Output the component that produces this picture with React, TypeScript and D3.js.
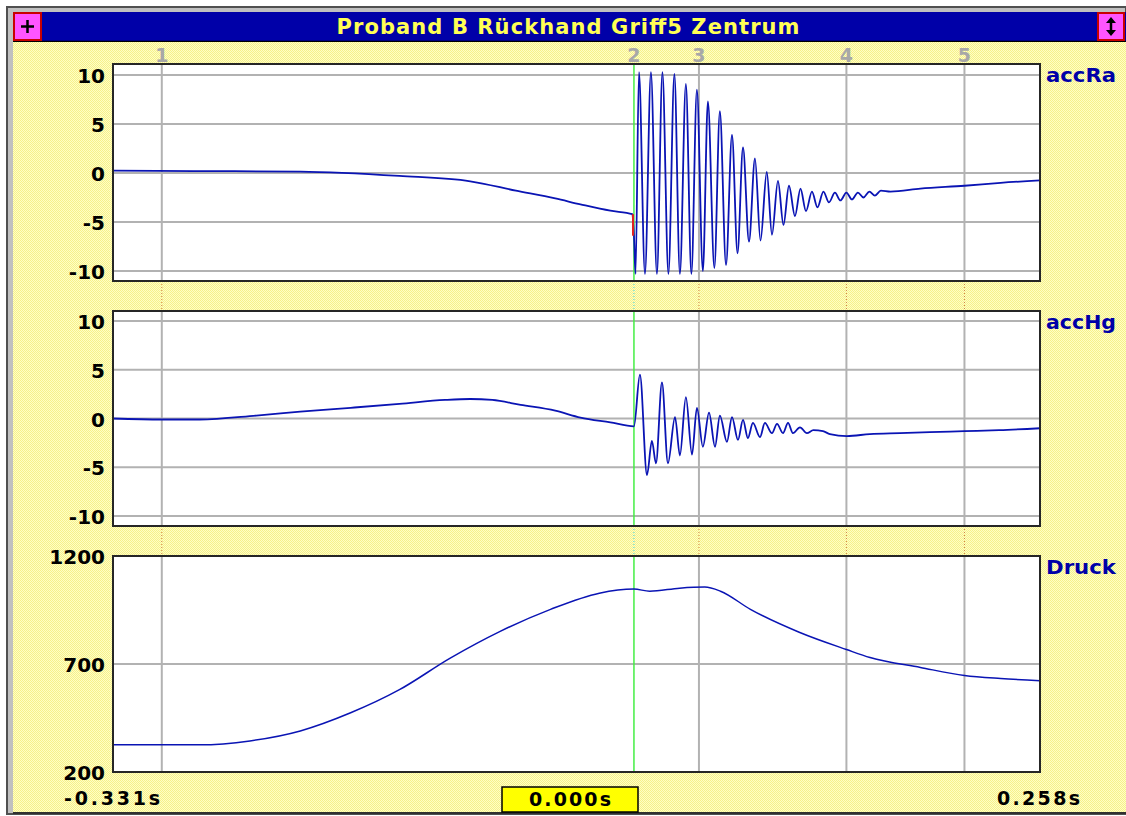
import React from "react";
import * as d3 from "d3";

// Time axis in milliseconds relative to the trigger point
const timeStartMs = -331;
const timeEndMs = 258;

// Cursor markers along the time axis
const markerLabels = ["1", "2", "3", "4", "5"];
const markerTimesMs = [-300, 0, 41.3, 135, 210];

// Channel accRa: samples (ms, value)
const accRaTimes = [
  -331, -280, -212, -149, -104, -75, -50, -34, -15, -1, 0,
  1.0, 3.2, 7.0, 10.8, 14.6, 18.1, 21.9, 25.7, 29.2, 33.0, 36.5, 40.0,
  43.8, 47.0, 51.1, 54.6, 58.5, 62.3, 65.8, 69.3, 73.1, 76.9, 80.4, 84.4,
  87.7, 91.5, 95.0, 98.5, 102.3, 105.8, 109.3, 113.1, 116.6, 120.4, 123.9,
  127.7, 131.2, 135.0, 138.5, 142.3, 145.8, 149.6, 153.1, 156.9,
  163, 182, 210, 233, 258,
];
const accRaValues = [
  0.25, 0.2, 0.15, -0.3, -0.85, -1.8, -2.6, -3.2, -3.85, -4.2, -6.4,
  -10.3, 10.3, -10.3, 10.3, -10.3, 10.3, -10.3, 10.1, -10.3, 9.1, -10.3, 8.5,
  -10.0, 7.3, -9.7, 6.3, -9.4, 3.9, -8.2, 2.6, -7.0, 1.5, -6.9, 0.1,
  -6.3, -0.8, -5.3, -1.3, -4.4, -1.6, -3.9, -1.9, -3.5, -1.9, -3.0,
  -2.0, -2.8, -2.0, -2.7, -2.0, -2.5, -1.9, -2.3, -1.8,
  -1.9, -1.6, -1.3, -1.0, -0.75,
];
// Trigger step of accRa, drawn in red
const accRaTriggerTimes = [-0.6, -0.6];
const accRaTriggerValues = [-4.2, -6.4];

// Channel accHg: samples (ms, value)
const accHgTimes = [
  -331, -300, -276, -240, -212, -180, -149, -120, -104, -90, -72, -50, -34, -15, 0,
  3.8, 8.3, 11.4, 14.0, 17.8, 21.6, 26.1, 29.2, 33.0, 36.9, 40.0, 43.8,
  47.7, 51.5, 54.6, 59.1, 62.3, 66.1, 69.3, 72.4, 75.6, 80.1, 83.2, 87.7,
  90.9, 94.7, 97.9, 101.0, 105.5, 109.9, 114, 120.1, 124.5, 135.3, 149.9,
  169, 188, 210, 232, 258,
];
const accHgValues = [
  0.0, -0.1, -0.1, 0.3, 0.7, 1.1, 1.5, 1.9, 2.0, 1.9, 1.4, 0.8, 0.1, -0.4, -0.8,
  4.5, -5.8, -2.3, -4.6, 3.7, -4.6, 0.15, -3.8, 2.2, -3.7, 1.1, -2.9,
  0.6, -2.9, 0.3, -2.4, 0.15, -2.2, -0.15, -2.0, -0.45, -1.9, -0.45, -1.5,
  -0.55, -1.5, -0.45, -1.5, -0.9, -1.5, -1.2, -1.3, -1.6, -1.8, -1.6,
  -1.5, -1.4, -1.3, -1.2, -1.0,
];

// Channel Druck: samples (ms, value)
const druckTimes = [
  -331, -276, -244, -212, -180, -149, -117, -85, -53, -22, 0, 10, 29, 45, 55,
  74, 105, 135, 150, 182, 210, 233, 258,
];
const druckValues = [
  326, 326, 344, 390, 474, 581, 726, 851, 953, 1028, 1047, 1037, 1051, 1056, 1037,
  953, 847, 767, 730, 684, 647, 633, 623,
];

// Axis ticks and names per channel
const accTicks = [10, 5, 0, -5, -10];
const druckTicks = [1200, 700, 200];
const channelNames = ["accRa", "accHg", "Druck"];

const titleText = "Proband B Rückhand Griff5 Zentrum";
const startLabel = "-0.331s";
const cursorLabel = "0.000s";
const endLabel = "0.258s";

const W = 1126;
const H = 816;
const plotLeft = 113;
const plotRight = 1040;
const FONT = "'DejaVu Sans', Verdana, sans-serif";

const x = d3.scaleLinear().domain([timeStartMs, timeEndMs]).range([plotLeft, plotRight]);

type Panel = {
  top: number;
  bottom: number;
  y: d3.ScaleLinear<number, number>;
  ticks: number[];
  name: string;
};

const panels: Panel[] = [
  { top: 64, bottom: 281, y: d3.scaleLinear().domain([-10, 10]).range([271, 75]), ticks: accTicks, name: channelNames[0] },
  { top: 311, bottom: 526, y: d3.scaleLinear().domain([-10, 10]).range([516, 321]), ticks: accTicks, name: channelNames[1] },
  { top: 556, bottom: 772, y: d3.scaleLinear().domain([200, 1200]).range([772, 556]), ticks: druckTicks, name: channelNames[2] },
];

const series = [
  d3.zip(accRaTimes, accRaValues) as [number, number][],
  d3.zip(accHgTimes, accHgValues) as [number, number][],
  d3.zip(druckTimes, druckValues) as [number, number][],
];
const trigger = d3.zip(accRaTriggerTimes, accRaTriggerValues) as [number, number][];

const LINE = "#0a14b4";
const GRID = "#b2b2b2";
const GREEN = "#44ee44";

export default function App() {
  const markerX = markerTimesMs.map((t) => x(t));
  return (
    <div style={{ position: "absolute", left: 0, top: 0 }}>
      <svg width={W} height={H} style={{ display: "block" }}>
        <defs>
          <pattern id="dither" width="2" height="2" patternUnits="userSpaceOnUse">
            <rect width="2" height="2" fill="#ffffc4" />
            <rect x="0" y="0" width="1" height="1" fill="#f6f08c" />
            <rect x="1" y="1" width="1" height="1" fill="#f6f08c" />
          </pattern>
          {panels.map((p, i) => (
            <clipPath id={`clip${i}`} key={i}>
              <rect x={plotLeft} y={p.top} width={plotRight - plotLeft} height={p.bottom - p.top} />
            </clipPath>
          ))}
        </defs>

        <rect width={W} height={H} fill="#ffffff" />
        {/* window frame */}
        <rect x={7} y={7} width={W - 7} height={H - 9} fill="#c0c0c0" stroke="#505050" strokeWidth={2} />
        <rect x={13} y={12} width={W - 13} height={30} fill="#0000a8" />
        <line x1={13} x2={W} y1={41.5} y2={41.5} stroke="#000" strokeWidth={1.5} />
        <rect x={13} y={42} width={W - 13} height={770} fill="url(#dither)" />
        <line x1={13} x2={W} y1={813} y2={813} stroke="#303030" strokeWidth={2} />

        {/* title bar buttons */}
        <rect x={14} y={13} width={27} height={27} fill="#ff55ff" stroke="#c80000" strokeWidth={2} />
        <path d="M27.5,20 V33 M21,26.5 H34" stroke="#000" strokeWidth={2.5} />
        <rect x={1098} y={13} width={26} height={27} fill="#ff55ff" stroke="#c80000" strokeWidth={2} />
        <path d="M1111,19 V34" stroke="#000" strokeWidth={2.5} />
        <path d="M1106,23 L1111,17 L1116,23 Z M1106,30 L1111,36 L1116,30 Z" fill="#000" />

        <text x={568} y={34} fill="#ffff55" fontFamily={FONT} fontWeight="bold" fontSize={21}
          textAnchor="middle" textLength={463} lengthAdjust="spacing">{titleText}</text>

        {/* marker numbers above the first panel */}
        {markerLabels.map((m, i) => (
          <text key={m} x={markerX[i]} y={62} fill="#a8a8a8" fontFamily={FONT} fontWeight="bold"
            fontSize={19} textAnchor="middle">{m}</text>
        ))}

        {/* dotted marker traces in the gaps between panels */}
        {panels.slice(0, -1).map((p, i) => {
          const next = panels[i + 1];
          return markerX.map((mx, j) => (
            <line key={`g${i}-${j}`} x1={mx} x2={mx} y1={p.bottom} y2={next.top}
              stroke={j === 1 ? "#40d8e8" : "#d08040"} strokeWidth={1} strokeDasharray="1,2" />
          ));
        })}

        {panels.map((p, i) => {
          const line = d3
            .line<[number, number]>()
            .x((d) => x(d[0]))
            .y((d) => p.y(d[1]))
            .curve(d3.curveMonotoneX);
          return (
            <g key={i}>
              <rect x={plotLeft} y={p.top} width={plotRight - plotLeft} height={p.bottom - p.top} fill="#ffffff" />
              {p.ticks.map((t) => (
                <line key={t} x1={plotLeft} x2={plotRight} y1={p.y(t)} y2={p.y(t)} stroke={GRID} strokeWidth={2} />
              ))}
              {markerX.map((mx, j) =>
                j === 1 ? null : (
                  <line key={j} x1={mx} x2={mx} y1={p.top} y2={p.bottom} stroke={GRID} strokeWidth={2} />
                )
              )}
              <line x1={markerX[1]} x2={markerX[1]} y1={p.top} y2={p.bottom} stroke={GREEN} strokeWidth={1.5} />
              <g clipPath={`url(#clip${i})`}>
                <path d={line(series[i]) || ""} fill="none" stroke={LINE}
                  strokeWidth={i === 2 ? 1.5 : 1.8} strokeLinejoin="round" />
                {i === 0 && (
                  <path
                    d={d3.line<[number, number]>().x((d) => x(d[0])).y((d) => p.y(d[1]))(trigger) || ""}
                    fill="none" stroke="#e02020" strokeWidth={2}
                  />
                )}
              </g>
              <rect x={plotLeft} y={p.top} width={plotRight - plotLeft} height={p.bottom - p.top}
                fill="none" stroke="#262626" strokeWidth={2} />
              {p.ticks.map((t) => (
                <text key={t} x={105} y={p.y(t) + 8} fontFamily={FONT} fontWeight="bold" fontSize={20}
                  textAnchor="end" fill="#000">{t}</text>
              ))}
              <text x={1046} y={p.top + 18} fontFamily={FONT} fontWeight="bold" fontSize={19}
                fill="#0000a8" textLength={70} lengthAdjust="spacingAndGlyphs">{p.name}</text>
            </g>
          );
        })}

        {/* time range labels */}
        <text x={64} y={805} fontFamily={FONT} fontWeight="bold" fontSize={19} fill="#000"
          textLength={96} lengthAdjust="spacing">{startLabel}</text>
        <rect x={502} y={787} width={136} height={25} fill="#ffff00" stroke="#000" strokeWidth={1.5} />
        <text x={570} y={806} fontFamily={FONT} fontWeight="bold" fontSize={19} fill="#000"
          textAnchor="middle" textLength={82} lengthAdjust="spacing">{cursorLabel}</text>
        <text x={997} y={805} fontFamily={FONT} fontWeight="bold" fontSize={19} fill="#000"
          textLength={83} lengthAdjust="spacing">{endLabel}</text>
      </svg>
    </div>
  );
}
